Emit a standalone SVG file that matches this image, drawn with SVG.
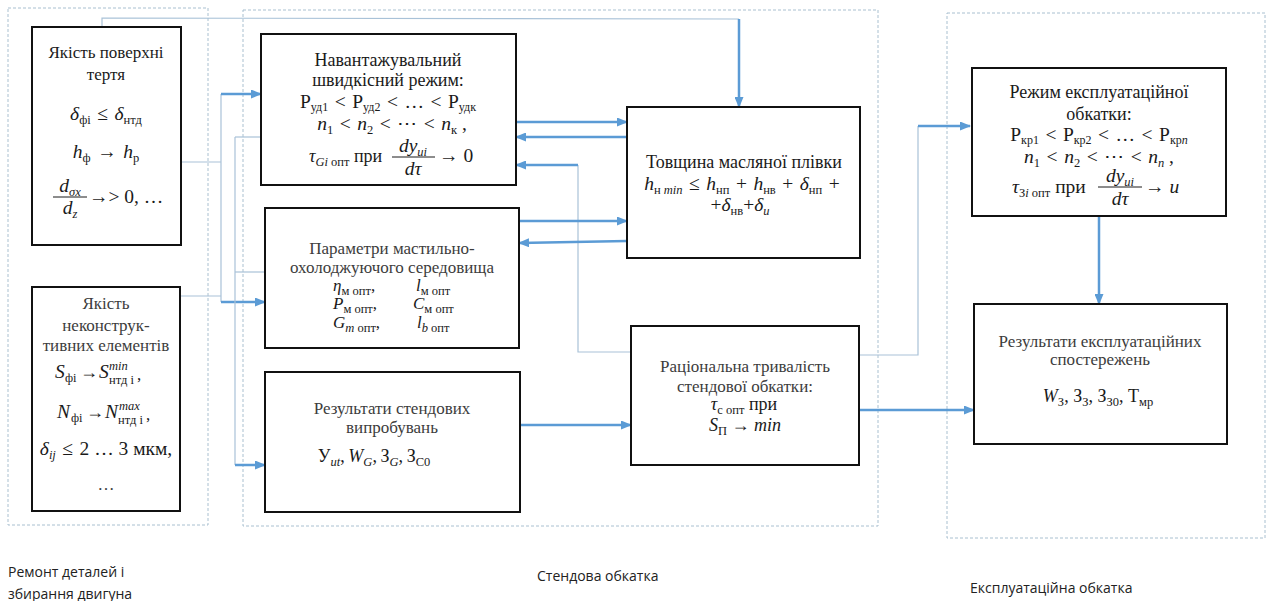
<svg xmlns="http://www.w3.org/2000/svg" width="1272" height="601" viewBox="0 0 1272 601">
<style>
.bg{fill:#fff}
.zone{fill:none;stroke:#a9c0d0;stroke-width:1;stroke-dasharray:3 2}
.box{fill:#fff;stroke:#111;stroke-width:2}
.thin{fill:none;stroke:#a9c2d8;stroke-width:1.2}
.thick{fill:none;stroke:#5b9bd5;stroke-width:2.5;marker-end:url(#ah)}
.t{font-family:"Liberation Serif","DejaVu Serif",serif;font-size:17px;fill:#1a1a1a;text-anchor:middle}
.g{fill:#3c3c3c}
.ts{text-anchor:start}
.m{font-size:19.5px}
.m2{font-size:18px}
.i{font-style:italic}
.s{font-size:12.5px;baseline-shift:-4px}
.s3{font-size:12px;baseline-shift:-3px}
.sp{font-size:12.5px}
.lab{font-family:"Open Sans","Liberation Sans",sans-serif;font-size:14px;fill:#222}
.bar{stroke:#1a1a1a;stroke-width:1}
</style>
<defs>
<marker id="ah" markerUnits="userSpaceOnUse" markerWidth="11" markerHeight="9" refX="10" refY="4.5" orient="auto">
<path d="M0,0 L11,4.5 L0,9 z" fill="#5b9bd5"/>
</marker>
</defs>
<rect class="bg" x="0" y="0" width="1272" height="601"/>

<g id="zones">
<rect class="zone" x="8" y="8" width="200" height="517"/>
<rect class="zone" x="243" y="10" width="635" height="516"/>
<rect class="zone" x="947" y="13" width="318" height="525"/>
</g>

<g id="connectors">
<polyline class="thin" points="102,27 102,18 739,19"/>
<line class="thick" x1="739" y1="19" x2="739" y2="107"/>
<line class="thin" x1="181" y1="162" x2="221" y2="162"/>
<line class="thin" x1="180" y1="296" x2="221" y2="296"/>
<line class="thin" x1="221" y1="94" x2="221" y2="302"/>
<line class="thick" x1="221" y1="94" x2="261" y2="94"/>
<line class="thick" x1="221" y1="302" x2="265" y2="302"/>
<line class="thin" x1="235" y1="137" x2="235" y2="465"/>
<line class="thin" x1="235" y1="137" x2="261" y2="137"/>
<line class="thin" x1="235" y1="272" x2="265" y2="272"/>
<line class="thick" x1="235" y1="465" x2="265" y2="465"/>
<line class="thick" x1="516" y1="122" x2="627" y2="122"/>
<line class="thick" x1="627" y1="137" x2="516" y2="137"/>
<polyline class="thin" points="631,352 578,352 578,165"/>
<line class="thick" x1="578" y1="165" x2="516" y2="165"/>
<line class="thick" x1="519" y1="221" x2="627" y2="221"/>
<line class="thick" x1="627" y1="241" x2="519" y2="243"/>
<line class="thick" x1="520" y1="425" x2="631" y2="425"/>
<line class="thick" x1="859" y1="410" x2="974" y2="410"/>
<polyline class="thin" points="859,355 918,355 918,126"/>
<line class="thick" x1="918" y1="126" x2="970" y2="126"/>
<line class="thick" x1="1099" y1="216" x2="1099" y2="304"/>
</g>

<g id="node-surface">
<rect class="box" x="32" y="27" width="149" height="218"/>
<text class="t" x="106" y="58">Якість поверхні</text>
<text class="t" x="106" y="80">тертя</text>
<text class="t m" x="106" y="120"><tspan class="i">δ</tspan><tspan class="s">фі</tspan>&#8196;≤&#8196;<tspan class="i">δ</tspan><tspan class="s">нтд</tspan></text>
<text class="t m" x="106" y="158"><tspan class="i">h</tspan><tspan class="s">ф</tspan>&#8196;→&#8196;<tspan class="i">h</tspan><tspan class="s">р</tspan></text>
<text class="t m" x="70" y="192"><tspan class="i">d</tspan><tspan class="s i">σx</tspan></text>
<line class="bar" x1="53" y1="197" x2="87" y2="197"/>
<text class="t m" x="70" y="214"><tspan class="i">d</tspan><tspan class="s i">z</tspan></text>
<text class="t m ts" x="89" y="203">→&gt; 0, …</text>
</g>

<g id="node-nonstructural">
<rect class="box" x="32" y="287" width="148" height="224"/>
<text class="t g" x="106" y="309">Якість</text>
<text class="t g" x="106" y="331">неконструк-</text>
<text class="t g" x="106" y="351">тивних елементів</text>
<text class="t m ts i" x="55" y="378">S</text>
<text class="t ts sp" x="65" y="382">фі</text>
<text class="t m2 ts" x="80" y="378">→</text>
<text class="t m ts i" x="99" y="378">S</text>
<text class="t ts sp i" x="109" y="370">min</text>
<text class="t ts sp" x="109" y="384">нтд і</text>
<text class="t ts" x="137" y="380">,</text>
<text class="t m ts i" x="57" y="418">N</text>
<text class="t ts sp" x="71" y="422">фі</text>
<text class="t m2 ts" x="86" y="418">→</text>
<text class="t m ts i" x="105" y="418">N</text>
<text class="t ts sp i" x="119" y="410">max</text>
<text class="t ts sp" x="118" y="424">нтд і</text>
<text class="t ts" x="146" y="420">,</text>
<text class="t m" x="106" y="455"><tspan class="i">δ</tspan><tspan class="s i">ij</tspan>&#8196;≤&#8196;2 … 3 мкм,</text>
<text class="t g" x="106" y="490">…</text>
</g>

<g id="node-load-mode">
<rect class="box" x="261" y="34" width="255" height="151"/>
<text class="t m2" x="388" y="66">Навантажувальний</text>
<text class="t m2" x="388" y="86">швидкісний режим:</text>
<text class="t m" x="388" y="108">Р<tspan class="s3">уд1</tspan>&#8196;&lt;&#8196;Р<tspan class="s3">уд2</tspan>&#8196;&lt;&#8196;…&#8196;&lt;&#8196;Р<tspan class="s3">удк</tspan></text>
<text class="t m" x="392" y="130"><tspan class="i">n</tspan><tspan class="s">1</tspan>&#8196;&lt;&#8196;<tspan class="i">n</tspan><tspan class="s">2</tspan>&#8196;&lt;&#8196;⋯&#8196;&lt;&#8196;<tspan class="i">n</tspan><tspan class="s">к</tspan> ,</text>
<text class="t m2 ts" x="309" y="162"><tspan class="i">τ</tspan><tspan class="s"><tspan class="i">Gi</tspan> опт</tspan> при</text>
<text class="t m" x="413" y="152"><tspan class="i">dy</tspan><tspan class="s i">ui</tspan></text>
<line class="bar" x1="392" y1="157" x2="435" y2="157"/>
<text class="t m" x="413" y="175"><tspan class="i">dτ</tspan></text>
<text class="t m ts" x="439" y="162">→ 0</text>
</g>

<g id="node-lubricant">
<rect class="box" x="265" y="208" width="254" height="140"/>
<text class="t g" x="392" y="254">Параметри мастильно-</text>
<text class="t g" x="392" y="273">охолоджуючого середовища</text>
<text class="t ts" x="333" y="291"><tspan class="i">η</tspan><tspan class="s">м опт</tspan>,</text>
<text class="t ts" x="416" y="291"><tspan class="i">l</tspan><tspan class="s">м опт</tspan></text>
<text class="t ts" x="333" y="309"><tspan class="i">P</tspan><tspan class="s">м опт</tspan>,</text>
<text class="t ts" x="413" y="309"><tspan class="i">C</tspan><tspan class="s">м опт</tspan></text>
<text class="t ts" x="333" y="328"><tspan class="i">G</tspan><tspan class="s"><tspan class="i">m</tspan> опт</tspan>,</text>
<text class="t ts" x="417" y="328"><tspan class="i">l</tspan><tspan class="s"><tspan class="i">b</tspan> опт</tspan></text>
</g>

<g id="node-bench-results">
<rect class="box" x="265" y="372" width="255" height="140"/>
<text class="t g" x="392" y="414">Результати стендових</text>
<text class="t g" x="392" y="433">випробувань</text>
<text class="t m2" x="374" y="462">У<tspan class="s i">ut</tspan>,&#8201;<tspan class="i">W</tspan><tspan class="s i">G</tspan>,&#8201;З<tspan class="s i">G</tspan>,&#8201;З<tspan class="s">С0</tspan></text>
</g>

<g id="node-oil-film">
<rect class="box" x="627" y="107" width="233" height="151"/>
<text class="t m2" x="744" y="168">Товщина масляної плівки</text>
<text class="t m" x="742" y="190"><tspan class="i">h</tspan><tspan class="s">н <tspan class="i">min</tspan></tspan>&#8196;≤&#8196;<tspan class="i">h</tspan><tspan class="s">нп</tspan>&#8196;+&#8196;<tspan class="i">h</tspan><tspan class="s">нв</tspan>&#8196;+&#8196;<tspan class="i">δ</tspan><tspan class="s">нп</tspan>&#8196;+</text>
<text class="t m" x="740" y="211">+<tspan class="i">δ</tspan><tspan class="s">нв</tspan>+<tspan class="i">δ</tspan><tspan class="s i">u</tspan></text>
</g>

<g id="node-duration">
<rect class="box" x="631" y="326" width="228" height="139"/>
<text class="t g" x="745" y="372">Раціональна тривалість</text>
<text class="t g" x="745" y="392">стендової обкатки:</text>
<text class="t m2" x="744" y="410"><tspan class="i">τ</tspan><tspan class="s">с опт</tspan>  при</text>
<text class="t m2" x="745" y="431"><tspan class="i">S</tspan><tspan class="s">П</tspan> → <tspan class="i">min</tspan></text>
</g>

<g id="node-operation-mode">
<rect class="box" x="972" y="68" width="254" height="148"/>
<text class="t m2" x="1099" y="98">Режим експлуатаційної</text>
<text class="t m2" x="1099" y="120">обкатки:</text>
<text class="t m" x="1099" y="141">Р<tspan class="s3">кр1</tspan>&#8196;&lt;&#8196;Р<tspan class="s3">кр2</tspan>&#8196;&lt;&#8196;…&#8196;&lt;&#8196;Р<tspan class="s3">кр<tspan class="i">n</tspan></tspan></text>
<text class="t m" x="1099" y="163"><tspan class="i">n</tspan><tspan class="s">1</tspan>&#8196;&lt;&#8196;<tspan class="i">n</tspan><tspan class="s">2</tspan>&#8196;&lt;&#8196;⋯&#8196;&lt;&#8196;<tspan class="i">n</tspan><tspan class="s i">n</tspan> ,</text>
<text class="t m ts" x="1012" y="193"><tspan class="i">τ</tspan><tspan class="s">З<tspan class="i">i</tspan> опт</tspan> при</text>
<text class="t m" x="1120" y="182"><tspan class="i">dy</tspan><tspan class="s i">ui</tspan></text>
<line class="bar" x1="1098" y1="187" x2="1142" y2="187"/>
<text class="t m" x="1120" y="205"><tspan class="i">dτ</tspan></text>
<text class="t m ts" x="1145" y="193">→ <tspan class="i">u</tspan></text>
</g>

<g id="node-operation-results">
<rect class="box" x="974" y="304" width="253" height="140"/>
<text class="t g" x="1100" y="347">Результати експлуатаційних</text>
<text class="t g" x="1100" y="365">спостережень</text>
<text class="t m2" x="1098" y="402"><tspan class="i">W</tspan><tspan class="s">З</tspan>, З<tspan class="s">З</tspan>, З<tspan class="s">З0</tspan>, Т<tspan class="s">мр</tspan></text>
</g>

<g id="labels">
<text class="lab" x="8" y="577">Ремонт деталей і</text>
<text class="lab" x="8" y="599">збирання двигуна</text>
<text class="lab" x="537" y="581">Стендова обкатка</text>
<text class="lab" x="970" y="593">Експлуатаційна обкатка</text>
</g>
</svg>
